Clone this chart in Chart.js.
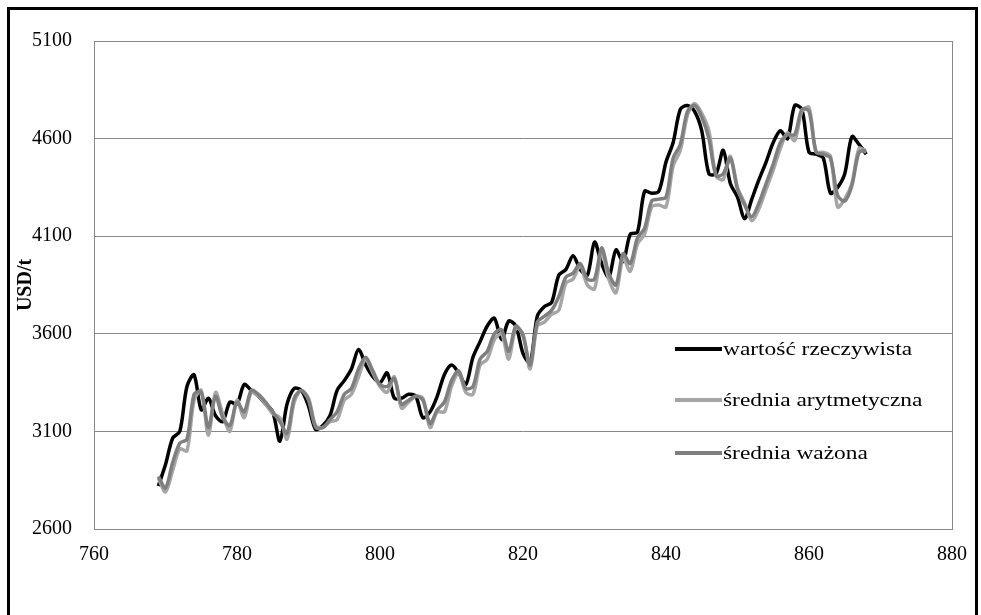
<!DOCTYPE html>
<html>
<head>
<meta charset="utf-8">
<title>USD/t</title>
<script src="https://cdn.jsdelivr.net/npm/chart.js@4/dist/chart.umd.min.js"></script>
<style>
  html, body { margin: 0; padding: 0; background: #fff; }
  #wrap { position: relative; width: 981px; height: 615px; overflow: hidden; }
  #frame { position: absolute; left: 7px; top: 7px; width: 971px; height: 660px; border: 3px solid #000; box-sizing: border-box; }
  #chart { position: absolute; left: 0; top: 0; }
  .leg-row { position: absolute; left: 675px; height: 24px; }
  .leg-line { position: absolute; left: 0; top: 10px; width: 47px; height: 4px; }
  .leg-text { position: absolute; left: 48px; top: 0; font: 18px "Liberation Serif", "Times New Roman", serif; line-height: 24px; white-space: nowrap; transform: scaleX(1.3); transform-origin: left center; color: #000; }
</style>
</head>
<body>
<div id="wrap">
  <canvas id="chart" width="981" height="615"></canvas>
  <div id="frame"></div>
  <div id="legend"></div>
</div>
<script>
// x axis - week numbers, first one is 769
const firstWeek = 769;
const xTicks = [760, 780, 800, 820, 840, 860, 880];
const yTicks = [2600, 3100, 3600, 4100, 4600, 5100];

// values, USD/t
const actual = [
  2820, 2930, 3065, 3100, 3330, 3390, 3210, 3270, 3180, 3150,
  3250, 3240, 3340, 3310, 3280, 3240, 3200, 3050, 3240, 3320,
  3310, 3230, 3110, 3130, 3180, 3310, 3360, 3420, 3520, 3440,
  3380, 3350, 3400, 3270, 3270, 3290, 3280, 3170, 3200, 3280,
  3390, 3440, 3400, 3340, 3480, 3560, 3640, 3680, 3570, 3665,
  3640, 3500, 3450, 3690, 3740, 3760, 3900, 3930, 4000, 3930,
  3900, 4070, 3960, 3890, 4030, 3970, 4110, 4120, 4330, 4320,
  4330, 4480, 4580, 4750, 4770, 4740, 4640, 4420, 4420, 4540,
  4370, 4300, 4190, 4290, 4390, 4480, 4580, 4640, 4600, 4770,
  4750, 4530, 4520, 4500, 4320, 4350, 4420, 4610, 4570, 4520
];
const arithmeticMean = [
  2860, 2790, 2900, 3010, 3000, 3260, 3310, 3080, 3300, 3190,
  3100, 3260, 3170, 3300, 3280, 3240, 3190, 3170, 3060, 3250,
  3310, 3270, 3130, 3120, 3150, 3160, 3260, 3290, 3380, 3470,
  3400, 3330, 3300, 3380, 3220, 3250, 3280, 3270, 3120, 3200,
  3200, 3330, 3400, 3300, 3290, 3440, 3470, 3570, 3600, 3470,
  3630, 3600, 3420, 3640, 3660, 3700, 3720, 3860, 3880, 3950,
  3850, 3830, 4020, 3880, 3810, 3990, 3920, 4060, 4110, 4250,
  4260, 4250, 4460, 4540, 4720, 4780, 4730, 4640, 4410, 4390,
  4510, 4350, 4270, 4180, 4240, 4340, 4440, 4550, 4630, 4590,
  4740, 4760, 4530, 4530, 4510, 4250, 4290, 4370, 4550, 4530
];
const weightedMean = [
  2870, 2810, 2940, 3040, 3060, 3290, 3300, 3120, 3280, 3170,
  3130, 3250, 3200, 3310, 3290, 3250, 3200, 3150, 3090, 3270,
  3310, 3260, 3120, 3120, 3160, 3200, 3290, 3320, 3420, 3480,
  3410, 3340, 3330, 3370, 3240, 3260, 3280, 3260, 3140, 3210,
  3250, 3360, 3410, 3320, 3330, 3470, 3510, 3600, 3620, 3510,
  3640, 3590, 3440, 3660, 3690, 3720, 3790, 3890, 3910, 3960,
  3880, 3880, 4040, 3910, 3850, 4010, 3960, 4090, 4140, 4280,
  4290, 4300, 4500, 4570, 4740, 4770, 4710, 4600, 4410, 4420,
  4500, 4340, 4260, 4200, 4270, 4370, 4470, 4580, 4620, 4620,
  4750, 4740, 4530, 4520, 4500, 4310, 4280, 4360, 4530, 4540
];

const seriesLabels = ['wartość rzeczywista', 'średnia arytmetyczna', 'średnia ważona'];
const seriesColors = ['#000000', '#a6a6a6', '#7f7f7f'];

function toPoints(values) {
    return values.map((v, i) => ({ x: firstWeek + i, y: v }));
}

const serif = '"Liberation Serif", "Times New Roman", serif';

// gray box round the plot area
const plotBox = {
    id: 'plotBox',
    beforeDatasetsDraw(chart) {
        const a = chart.chartArea;
        const ctx = chart.ctx;
        ctx.save();
        ctx.strokeStyle = '#888';
        ctx.lineWidth = 1;
        ctx.strokeRect(a.left + 0.5, a.top + 0.5, a.right - a.left, a.bottom - a.top);
        ctx.restore();
    }
};

const datasets = [actual, arithmeticMean, weightedMean].map((vals, i) => ({
    label: seriesLabels[i],
    data: toPoints(vals),
    borderColor: seriesColors[i],
    backgroundColor: seriesColors[i],
    borderWidth: 3.5,
    pointRadius: 0,
    tension: 0.3,
    fill: false,
    order: 3 - i // black underneath, grays on top
}));

new Chart(document.getElementById('chart'), {
    type: 'line',
    data: { datasets },
    options: {
        responsive: false,
        animation: false,
        layout: { padding: { left: 14, top: 41, right: 26, bottom: 36 } },
        plugins: { legend: { display: false }, tooltip: { enabled: false } },
        scales: {
            x: {
                type: 'linear',
                min: 760,
                max: 880,
                afterBuildTicks: s => { s.ticks = xTicks.map(v => ({ value: v })); },
                afterFit: s => { s.height = 50; },
                grid: { display: false, drawTicks: false },
                border: { color: '#888', width: 1 },
                ticks: { padding: 14, color: '#000', font: { family: serif, size: 20 }, maxRotation: 0, callback: v => String(v) }
            },
            y: {
                min: 2600,
                max: 5100,
                afterBuildTicks: s => { s.ticks = yTicks.map(v => ({ value: v })); },
                afterFit: s => { s.width = 80; },
                grid: { color: '#888', lineWidth: 1, drawTicks: false },
                border: { color: '#888', width: 1 },
                ticks: { padding: 22, color: '#000', font: { family: serif, size: 20 }, callback: v => String(v) },
                title: { display: true, text: 'USD/t', color: '#000', padding: 0, font: { family: serif, size: 20, weight: 'bold' } }
            }
        }
    },
    plugins: [plotBox]
});

// legend inside the plot, built from the dataset settings
const legendTops = [337, 388, 441];
const legend = document.getElementById('legend');
seriesLabels.forEach((label, i) => {
    const row = document.createElement('div');
    row.className = 'leg-row';
    row.style.top = legendTops[i] + 'px';
    row.innerHTML = '<div class="leg-line" style="background:' + seriesColors[i] + '"></div>' +
        '<div class="leg-text">' + label + '</div>';
    legend.appendChild(row);
});
</script>
</body>
</html>
